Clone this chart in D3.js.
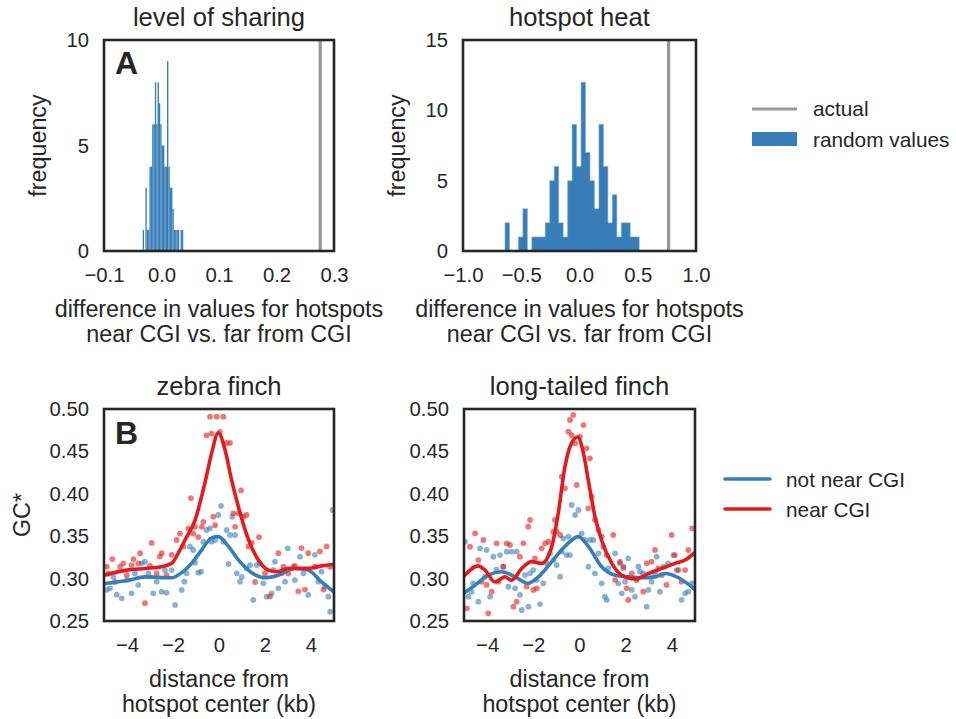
<!DOCTYPE html>
<html>
<head>
<meta charset="utf-8">
<script src="https://cdn.jsdelivr.net/npm/d3@7"></script>
<style>
  html, body { margin: 0; padding: 0; background: #ffffff; }
  svg { display: block; }
  text { font-family: "Liberation Sans", Arial, sans-serif; fill: #262626; }
</style>
</head>
<body>
<svg id="chart" width="956" height="719"></svg>
<script>
// ---------------- DATA ----------------
// Panel A (left): level of sharing — histogram of random values
const sharingBinStart = -0.0327;
const sharingBinWidth = 0.00235;
const sharingCounts = [1,0,3,1,1,4,4,6,6,8,6,8,7,6,5,5,4,4,9,4,3,3,2,1,1,1,1,0,1,1];
const sharingActual = 0.276;

// Panel A (right): hotspot heat — histogram of random values
const heatBinStart = -0.6395;
const heatBinWidth = 0.0384;
const heatCounts = [2,0,0,1,3,0,1,1,1,2,5,6,2,1,5,9,6,12,7,5,3,9,6,2,4,1,2,2,1,1];
const heatActual = 0.765;

const sharingXTicks = [-0.1, 0.0, 0.1, 0.2, 0.3];
const sharingYTicks = [0, 5, 10];
const heatXTicks = [-1.0, -0.5, 0.0, 0.5, 1.0];
const heatYTicks = [0, 5, 10, 15];

// Panel B: GC* around hotspots
const distTicks = [-4, -2, 0, 2, 4];
const gcTicks = [0.25, 0.30, 0.35, 0.40, 0.45, 0.50];

// zebra finch — near CGI (red) points
const zfNearX = [-4.88,-4.81,-4.64,-4.52,-4.30,-4.16,-4.01,-3.80,-3.72,-3.51,-3.43,-3.22,-3.00,-2.93,-2.71,-2.57,-2.49,-2.28,-2.06,-1.84,-1.70,-1.55,-1.33,-1.22,-1.12,-1.04,-0.90,-0.75,-0.68,-0.54,-0.39,-0.32,-0.25,-0.17,-0.10,0.04,0.19,0.33,0.48,0.62,0.70,0.84,0.96,1.06,1.20,1.28,1.42,1.57,1.74,2.00,2.22,2.36,2.58,2.80,3.01,3.30,3.45,3.59,3.74,3.88,4.17,4.39,4.54,4.68,4.83];
const zfNearY = [0.314,0.306,0.323,0.296,0.314,0.318,0.304,0.316,0.323,0.318,0.330,0.271,0.315,0.342,0.306,0.326,0.330,0.304,0.328,0.3455,0.353,0.338,0.359,0.395,0.353,0.361,0.349,0.361,0.367,0.469,0.491,0.471,0.373,0.363,0.491,0.473,0.491,0.460,0.460,0.377,0.361,0.377,0.404,0.373,0.375,0.338,0.342,0.296,0.349,0.306,0.279,0.310,0.330,0.314,0.306,0.315,0.285,0.336,0.287,0.330,0.314,0.332,0.287,0.338,0.314];
// zebra finch — not near CGI (blue) points
const zfFarX = [-4.88,-4.74,-4.59,-4.45,-4.23,-4.01,-3.80,-3.65,-3.51,-3.36,-3.22,-3.07,-2.86,-2.71,-2.49,-2.35,-2.28,-2.06,-1.91,-1.62,-1.51,-1.41,-1.26,-1.12,-1.04,-0.90,-0.78,-0.68,-0.54,-0.39,-0.32,-0.17,-0.03,0.09,0.19,0.33,0.41,0.48,0.58,0.70,0.77,0.91,0.99,1.20,1.35,1.49,1.64,1.78,1.93,2.07,2.29,2.43,2.58,2.72,2.87,2.99,3.23,3.30,3.52,3.67,3.88,4.17,4.32,4.46,4.61,4.75,4.83,4.93];
const zfFarY = [0.2866,0.2885,0.302,0.281,0.2767,0.2983,0.2826,0.3062,0.2925,0.318,0.320,0.306,0.2826,0.2964,0.2846,0.310,0.2834,0.310,0.2689,0.2866,0.2964,0.3062,0.3377,0.3337,0.3188,0.307,0.3082,0.3436,0.3573,0.3593,0.3436,0.3455,0.375,0.3856,0.3436,0.3573,0.3172,0.3514,0.373,0.3514,0.3062,0.2964,0.302,0.3121,0.316,0.2748,0.316,0.318,0.2944,0.2787,0.2826,0.320,0.2885,0.3062,0.2964,0.3357,0.3141,0.2983,0.3259,0.3062,0.2807,0.328,0.2964,0.3082,0.2905,0.2787,0.261,0.3809];
// zebra finch smoothed lines
const zfNearLineX = [-5,-4,-3.2,-2.5,-2.06,-1.77,-1.48,-1.04,-0.61,-0.32,-0.03,0.26,0.55,0.84,1.28,1.71,2.14,2.51,3.01,3.88,4.46,5];
const zfNearLineY = [0.304,0.31,0.312,0.314,0.318,0.33,0.3455,0.369,0.413,0.448,0.472,0.452,0.416,0.385,0.346,0.322,0.31,0.308,0.312,0.312,0.315,0.317];
const zfFarLineX = [-5,-3.94,-3.2,-2.06,-1.62,-1.19,-0.75,-0.32,-0.03,0.41,0.84,1.42,2.0,2.58,3.3,3.88,4.46,5];
const zfFarLineY = [0.294,0.298,0.302,0.301,0.307,0.318,0.334,0.348,0.3495,0.338,0.322,0.307,0.301,0.304,0.312,0.31,0.296,0.284];

// long-tailed finch — near CGI (red) points
const ltNearX = [-4.88,-4.74,-4.52,-4.38,-4.24,-4.16,-4.02,-3.95,-3.80,-3.59,-3.51,-3.30,-3.15,-3.01,-2.86,-2.72,-2.58,-2.43,-2.29,-2.22,-2.14,-2.00,-1.93,-1.85,-1.64,-1.49,-1.35,-1.13,-1.06,-0.99,-0.84,-0.77,-0.63,-0.48,-0.41,-0.34,-0.27,-0.19,-0.12,0.02,0.17,0.31,0.38,0.45,0.53,0.67,0.82,0.96,1.03,1.18,1.46,1.54,1.75,1.90,2.04,2.11,2.26,2.47,2.76,2.91,3.12,3.27,3.41,3.56,3.77,3.99,4.13,4.28,4.42,4.57,4.71,4.88];
const ltNearY = [0.2649,0.3377,0.3534,0.3219,0.2964,0.3455,0.2925,0.259,0.2846,0.3416,0.2964,0.3141,0.3416,0.3396,0.2669,0.2728,0.3259,0.3416,0.2905,0.3612,0.3691,0.2866,0.3239,0.2885,0.3357,0.3416,0.3436,0.3553,0.3691,0.3553,0.3514,0.4202,0.4064,0.4733,0.487,0.4693,0.4929,0.4595,0.4104,0.4674,0.4811,0.4536,0.3829,0.4418,0.3966,0.3691,0.3573,0.3495,0.3377,0.3278,0.3514,0.2983,0.320,0.3141,0.2885,0.2748,0.3062,0.2983,0.2846,0.318,0.320,0.3337,0.3121,0.3042,0.2925,0.3514,0.3278,0.3101,0.2964,0.3101,0.3337,0.3593];
// long-tailed finch — not near CGI (blue) points
const ltFarX = [-4.96,-4.81,-4.67,-4.60,-4.38,-4.31,-4.09,-4.02,-3.87,-3.73,-3.59,-3.44,-3.30,-3.15,-3.08,-2.94,-2.79,-2.72,-2.58,-2.50,-2.36,-2.21,-2.14,-2.00,-1.85,-1.71,-1.57,-1.42,-1.28,-1.13,-0.99,-0.84,-0.77,-0.70,-0.56,-0.48,-0.41,-0.34,-0.19,-0.05,0.09,0.24,0.38,0.45,0.60,0.67,0.82,0.96,1.10,1.18,1.25,1.54,1.68,1.75,1.83,1.90,1.97,2.11,2.26,2.40,2.55,2.62,2.76,2.91,2.98,3.12,3.27,3.34,3.48,3.63,3.84,4.06,4.21,4.42,4.57,4.71,4.86];
const ltFarY = [0.3436,0.2787,0.2846,0.2944,0.2728,0.3357,0.3023,0.3337,0.2787,0.3259,0.3109,0.3278,0.3141,0.3318,0.2905,0.3318,0.2885,0.3318,0.2807,0.263,0.3042,0.2669,0.3062,0.3101,0.2983,0.270,0.2944,0.318,0.3298,0.3219,0.316,0.3023,0.3318,0.3475,0.3278,0.3495,0.3278,0.3868,0.375,0.3809,0.3534,0.3455,0.3141,0.3455,0.3455,0.3062,0.3298,0.2944,0.2787,0.2748,0.3121,0.3298,0.2944,0.318,0.2826,0.3121,0.2964,0.3239,0.2866,0.2787,0.3141,0.3082,0.3062,0.2669,0.2866,0.2964,0.3062,0.3259,0.2846,0.3141,0.318,0.3278,0.3101,0.2748,0.2826,0.2846,0.2944];
// long-tailed finch smoothed lines
const ltNearLineX = [-5,-4.38,-4.09,-3.66,-3.23,-2.94,-2.5,-2.07,-1.64,-1.2,-0.92,-0.63,-0.34,-0.08,0.17,0.38,0.67,0.96,1.4,1.83,2.41,2.99,3.56,4.14,4.58,5];
const ltNearLineY = [0.303,0.315,0.31,0.296,0.302,0.298,0.312,0.32,0.318,0.338,0.377,0.432,0.46,0.467,0.448,0.416,0.373,0.345,0.318,0.304,0.2995,0.306,0.312,0.318,0.322,0.331];
const ltFarLineX = [-5,-4.53,-3.95,-3.37,-2.79,-2.22,-1.78,-1.2,-0.63,-0.05,0.38,0.96,1.54,2.12,2.7,3.27,3.71,4.29,5];
const ltFarLineY = [0.283,0.292,0.304,0.308,0.302,0.2945,0.302,0.32,0.338,0.3495,0.338,0.314,0.304,0.302,0.301,0.302,0.306,0.301,0.287];

const legendTop = ["actual", "random values"];
const legendBottom = ["not near CGI", "near CGI"];

// ---------------- STYLE ----------------
const BLUE = "#377eb8", RED = "#e41a1c", GRAY = "#999999", INK = "#262626";
const svg = d3.select("#chart");

function frame(g, x0, x1, y0, y1) {
  g.append("rect").attr("x", x0).attr("y", y0).attr("width", x1 - x0).attr("height", y1 - y0)
    .attr("fill", "none").attr("stroke", INK).attr("stroke-width", 2.6);
}

function axes(g, x, y, xTicks, yTicks, xFmt, yFmt) {
  const [y1] = y.range();
  const [x0] = x.range();
  const ax = g.append("g").attr("transform", `translate(0,${y1})`)
    .call(d3.axisBottom(x).tickValues(xTicks).tickFormat(xFmt).tickSize(0).tickPadding(17));
  const ay = g.append("g").attr("transform", `translate(${x0},0)`)
    .call(d3.axisLeft(y).tickValues(yTicks).tickFormat(yFmt).tickSize(0).tickPadding(15));
  [ax, ay].forEach(a => {
    a.select(".domain").remove();
    a.selectAll("text").attr("fill", INK).style("font-size", "20.3px")
      .style("font-family", '"Liberation Sans", Arial, sans-serif');
  });
}

function title(g, x, y, txt) {
  const [a, b] = x.range();
  g.append("text").attr("x", (a + b) / 2).attr("y", y.range()[1] - 14)
    .attr("text-anchor", "middle").style("font-size", "25.6px").text(txt);
}

function xLabel(g, x, y, lines) {
  const [a, b] = x.range();
  const base = y.range()[0];
  lines.forEach((l, i) => {
    g.append("text").attr("x", (a + b) / 2).attr("y", base + 66 + i * 24.5)
      .attr("text-anchor", "middle").style("font-size", "23.3px").text(l);
  });
}

function yLabel(g, y, xpos, txt) {
  const [b, a] = y.range();
  g.append("text").attr("transform", `translate(${xpos},${(a + b) / 2}) rotate(-90)`)
    .attr("text-anchor", "middle").style("font-size", "23.3px").text(txt);
}

// ---------------- PANEL A ----------------
function histogram(x0, x1, domainX, domainY, binStart, binW, counts, actual, xTicks, yTicks, ttl, asPath, letter, ylabX) {
  const g = svg.append("g");
  const x = d3.scaleLinear().domain(domainX).range([x0, x1]);
  const y = d3.scaleLinear().domain(domainY).range([251, 40]);
  const bins = counts.map((c, i) => ({ lo: binStart + i * binW, hi: binStart + (i + 1) * binW, c }));
  if (asPath) {
    let d = `M${x(bins[0].lo)},${y(0)}`;
    bins.forEach(b => { d += `L${x(b.lo)},${y(b.c)}L${x(b.hi)},${y(b.c)}`; });
    d += `L${x(bins[bins.length - 1].hi)},${y(0)}Z`;
    g.append("path").attr("d", d).attr("fill", BLUE).attr("stroke", "#7fa9d2").attr("stroke-width", 0.6);
  } else {
    g.selectAll("rect.bar").data(bins.filter(b => b.c > 0)).join("rect").attr("class", "bar")
      .attr("x", b => x(b.lo)).attr("width", b => x(b.hi) - x(b.lo))
      .attr("y", b => y(b.c)).attr("height", b => y(0) - y(b.c)).attr("fill", BLUE);
  }
  g.append("line").attr("x1", x(actual)).attr("x2", x(actual)).attr("y1", y.range()[1]).attr("y2", y.range()[0])
    .attr("stroke", GRAY).attr("stroke-width", 3.2);
  frame(g, x0, x1, 40, 251);
  axes(g, x, y, xTicks, yTicks, d3.format(".1f"), d3.format("d"));
  title(g, x, y, ttl);
  xLabel(g, x, y, ["difference in values for hotspots", "near CGI vs. far from CGI"]);
  yLabel(g, y, ylabX, "frequency");
  if (letter) {
    g.append("text").attr("x", x0 + 11).attr("y", 74).style("font-size", "32px").style("font-weight", "bold").text(letter);
  }
}

histogram(104, 334, [-0.1, 0.3], [0, 10], sharingBinStart, sharingBinWidth, sharingCounts, sharingActual,
  sharingXTicks, sharingYTicks, "level of sharing", false, "A", 46);
histogram(463, 696, [-1, 1], [0, 15], heatBinStart, heatBinWidth, heatCounts, heatActual,
  heatXTicks, heatYTicks, "hotspot heat", true, null, 405);

// ---------------- PANEL B ----------------
function gcPanel(x0, x1, ttl, nearX, nearY, farX, farY, nlX, nlY, flX, flY, letter, showYLabel) {
  const g = svg.append("g");
  const x = d3.scaleLinear().domain([-5, 5]).range([x0, x1]);
  const y = d3.scaleLinear().domain([0.25, 0.5]).range([621, 409]);
  const clipId = "clip" + Math.round(x0);
  svg.append("clipPath").attr("id", clipId).append("rect")
    .attr("x", x0).attr("y", 409).attr("width", x1 - x0).attr("height", 212);
  const data = g.append("g").attr("clip-path", `url(#${clipId})`);
  const far = farX.map((v, i) => [v, farY[i]]);
  const near = nearX.map((v, i) => [v, nearY[i]]);
  data.selectAll("circle.far").data(far).join("circle").attr("class", "far")
    .attr("cx", d => x(d[0])).attr("cy", d => y(d[1])).attr("r", 2.9)
    .attr("fill", BLUE).attr("fill-opacity", 0.6);
  data.selectAll("circle.near").data(near).join("circle").attr("class", "near")
    .attr("cx", d => x(d[0])).attr("cy", d => y(d[1])).attr("r", 2.9)
    .attr("fill", RED).attr("fill-opacity", 0.6);
  const line = d3.line().x(d => x(d[0])).y(d => y(d[1])).curve(d3.curveMonotoneX);
  data.append("path").attr("d", line(flX.map((v, i) => [v, flY[i]])))
    .attr("fill", "none").attr("stroke", BLUE).attr("stroke-width", 3.6).attr("stroke-linejoin", "round");
  data.append("path").attr("d", line(nlX.map((v, i) => [v, nlY[i]])))
    .attr("fill", "none").attr("stroke", RED).attr("stroke-width", 3.6).attr("stroke-linejoin", "round");
  frame(g, x0, x1, 409, 621);
  axes(g, x, y, distTicks, gcTicks, d3.format("d"), d3.format(".2f"));
  title(g, x, y, ttl);
  xLabel(g, x, y, ["distance from", "hotspot center (kb)"]);
  if (showYLabel) yLabel(g, y, 30, "GC*");
  if (letter) {
    g.append("text").attr("x", x0 + 11).attr("y", 444).style("font-size", "32px").style("font-weight", "bold").text(letter);
  }
}

gcPanel(104, 334, "zebra finch", zfNearX, zfNearY, zfFarX, zfFarY, zfNearLineX, zfNearLineY, zfFarLineX, zfFarLineY, "B", true);
gcPanel(464, 695, "long-tailed finch", ltNearX, ltNearY, ltFarX, ltFarY, ltNearLineX, ltNearLineY, ltFarLineX, ltFarLineY, null, false);

// ---------------- LEGENDS ----------------
const lt = svg.append("g");
lt.append("line").attr("x1", 752).attr("x2", 797).attr("y1", 109).attr("y2", 109)
  .attr("stroke", GRAY).attr("stroke-width", 3.2);
lt.append("text").attr("x", 813).attr("y", 116).style("font-size", "20.8px").text(legendTop[0]);
lt.append("rect").attr("x", 752).attr("y", 132).attr("width", 45).attr("height", 14).attr("fill", BLUE);
lt.append("text").attr("x", 813).attr("y", 147).style("font-size", "20.8px").text(legendTop[1]);

const lb = svg.append("g");
lb.append("line").attr("x1", 725).attr("x2", 770).attr("y1", 479).attr("y2", 479)
  .attr("stroke", BLUE).attr("stroke-width", 3.6).attr("stroke-linecap", "round");
lb.append("text").attr("x", 786).attr("y", 487).style("font-size", "20.8px").text(legendBottom[0]);
lb.append("line").attr("x1", 725).attr("x2", 770).attr("y1", 509).attr("y2", 509)
  .attr("stroke", RED).attr("stroke-width", 3.6).attr("stroke-linecap", "round");
lb.append("text").attr("x", 786).attr("y", 517).style("font-size", "20.8px").text(legendBottom[1]);
</script>
</body>
</html>
